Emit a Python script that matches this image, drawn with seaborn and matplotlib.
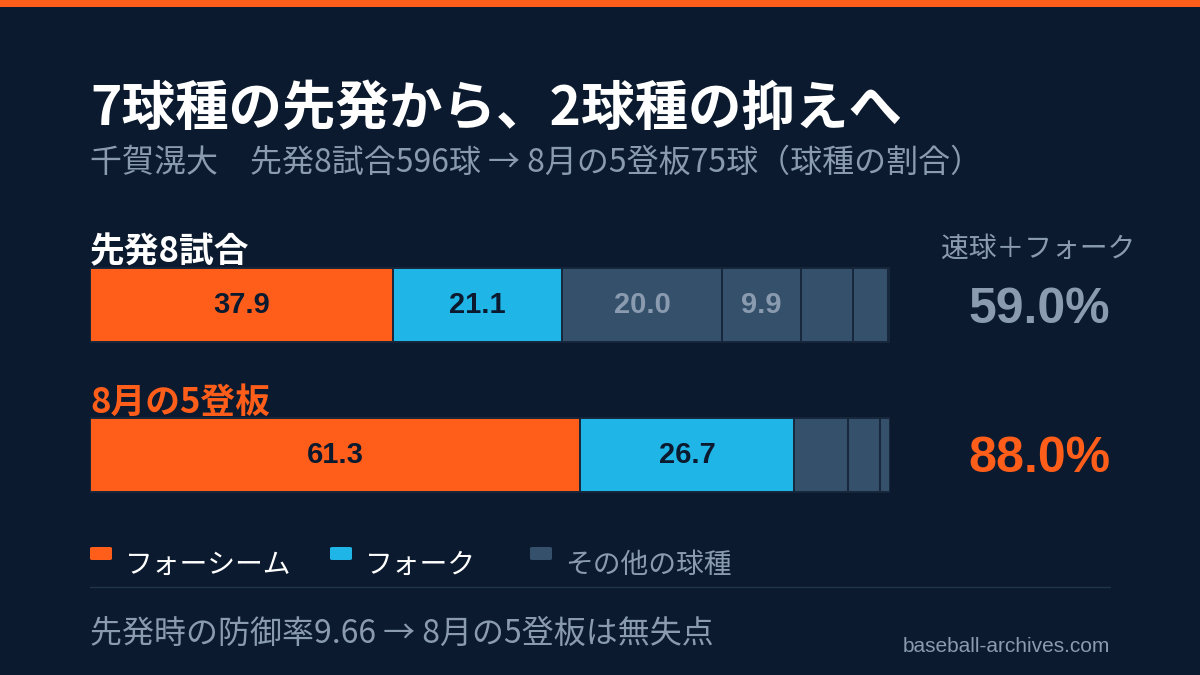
import numpy as np
import pandas as pd
import matplotlib
matplotlib.use('Agg')
import matplotlib.pyplot as plt
from matplotlib.patches import FancyBboxPatch, Rectangle
import seaborn as sns

# data
rows = ['先発8試合', '8月の5登板']
start_pct = [37.9, 21.1, 20.0, 9.9, 6.5, 4.4, 0.2]
relief_pct = [61.3, 26.7, 6.7, 4.0, 1.3]
combo_pct = [59.0, 88.0]
legend_labels = ['フォーシーム', 'フォーク', 'その他の球種']

BG = '#0b1a2e'
ORANGE = '#ff5e1a'
CYAN = '#1fb5e6'
OTHER = '#34506b'
MUTED = '#8a9bb0'

sns.set_theme(style='white')
plt.rcParams['font.family'] = ['Noto Sans CJK JP', 'DejaVu Sans']

W, H = 1200, 675
fig = plt.figure(figsize=(12, 6.75), dpi=100)
fig.patch.set_facecolor(BG)


def fx(x):
    return x / W


def fy(y):
    return 1 - y / H


# top accent strip
fig.patches.append(Rectangle((0, fy(7)), 1, 7 / H, transform=fig.transFigure,
                             facecolor=ORANGE, edgecolor='none'))

# long table: one row per segment with cumulative end
recs = []
for row, vals in zip(rows, [start_pct, relief_pct]):
    cum = np.cumsum(vals)
    for k, (v, c) in enumerate(zip(vals, cum)):
        recs.append({'row': row, 'seg': k, 'pct': v, 'cum': c,
                     'start': c - v})
df = pd.DataFrame(recs)

ax = fig.add_axes([fx(90), fy(530), 800 / W, 300 / H])
ax.set_facecolor(BG)

seg_colors = {0: ORANGE, 1: CYAN}
for k in sorted(df['seg'].unique(), reverse=True):
    sub = df[df['seg'] == k]
    sns.barplot(data=sub, x='cum', y='row', order=rows, orient='h',
                color=seg_colors.get(k, OTHER), saturation=1, width=0.49,
                edgecolor='#17263b', linewidth=1.4, errorbar=None, ax=ax)

ax.set_xlim(0, 100)
ax.set_ylim(1.5, -0.5)
ax.axis('off')

# values inside the wider segments
for _, r in df.iterrows():
    if r['pct'] < 9:
        continue
    yi = rows.index(r['row'])
    col = BG if r['seg'] < 2 else MUTED
    ax.text(r['start'] + r['pct'] / 2, yi, f"{r['pct']:.1f}", ha='center',
            va='center', fontsize=21, fontweight='bold', color=col,
            family='Liberation Sans')

# titles
fig.text(fx(90), fy(125), '7球種の先発から、2球種の抑えへ', fontsize=38.5,
         fontweight='bold', color='white', va='baseline')
fig.text(fx(90), fy(172), '千賀滉大　先発8試合596球 → 8月の5登板75球（球種の割合）',
         fontsize=23, color=MUTED, va='baseline')

# row labels
fig.text(fx(90), fy(262), rows[0], fontsize=25, fontweight='bold',
         color='white', va='baseline')
fig.text(fx(90), fy(413), rows[1], fontsize=25, fontweight='bold',
         color=ORANGE, va='baseline')

# right-hand summary
fig.text(fx(1038), fy(257), '速球＋フォーク', fontsize=20, color=MUTED,
         ha='center', va='baseline')
fig.text(fx(1039), fy(323), f'{combo_pct[0]:.1f}%', fontsize=36,
         fontweight='bold', color=MUTED, ha='center', va='baseline',
         family='Liberation Sans')
fig.text(fx(1039), fy(472), f'{combo_pct[1]:.1f}%', fontsize=36,
         fontweight='bold', color=ORANGE, ha='center', va='baseline',
         family='Liberation Sans')

# legend
leg = [(90, ORANGE, 'white'), (330, CYAN, 'white'), (530, OTHER, MUTED)]
for (x0, c, tc), lab in zip(leg, legend_labels):
    fig.patches.append(FancyBboxPatch((fx(x0), fy(560)), 22 / W, 13 / H,
                                      boxstyle='round,pad=0,rounding_size=0.002',
                                      transform=fig.transFigure,
                                      facecolor=c, edgecolor='none'))
    fig.text(fx(x0 + 35), fy(573), lab, fontsize=20, color=tc, va='baseline')

# separator
fig.lines.append(plt.Line2D([fx(90), fx(1110)], [fy(587), fy(587)],
                            transform=fig.transFigure, color='#22344a',
                            linewidth=1))

# footer
fig.text(fx(90), fy(643), '先発時の防御率9.66 → 8月の5登板は無失点',
         fontsize=23, color=MUTED, va='baseline')
fig.text(fx(1110), fy(652), 'baseball-archives.com', fontsize=15,
         color=MUTED, ha='right', va='baseline', family='Liberation Sans')

fig.savefig('out.png', dpi=100, facecolor=BG)
